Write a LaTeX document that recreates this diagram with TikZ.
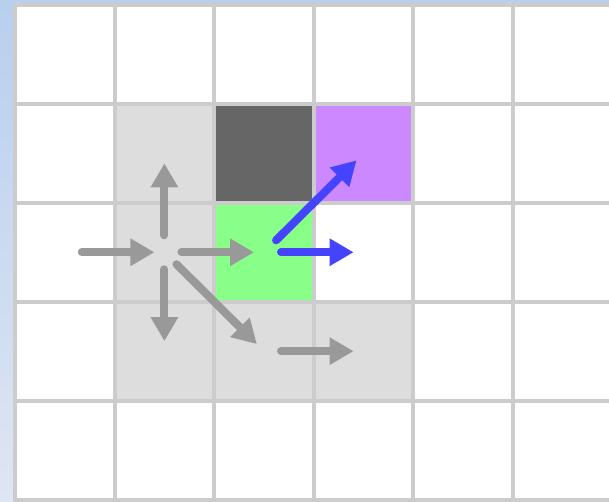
\documentclass[tikz,border=0pt]{standalone}
\usepackage{tikz}
\usetikzlibrary{arrows.meta}
\usepackage{xcolor}
\definecolor{bgtop}{HTML}{B8CFEE}
\definecolor{bgbottom}{HTML}{DEE6F3}
\definecolor{gridline}{HTML}{CCCCCC}
\definecolor{visited}{HTML}{DDDDDD}
\definecolor{wallcell}{HTML}{666666}
\definecolor{goalcell}{HTML}{CC88FF}
\definecolor{curcell}{HTML}{88FF88}
\definecolor{moveg}{HTML}{999999}
\definecolor{moveb}{HTML}{4444FF}

\begin{document}
\begin{tikzpicture}[
  x=1cm, y=-1cm,
  cell/.style={draw=gridline, line width=0.04cm, fill=white, rectangle,
    minimum width=0.996cm, minimum height=0.989cm, inner sep=0pt, outer sep=0pt},
  cell 1-1/.style={fill=visited},
  cell 1-2/.style={fill=visited},
  cell 1-3/.style={fill=visited},
  cell 2-3/.style={fill=visited},
  cell 3-3/.style={fill=visited},
  cell 2-1/.style={fill=wallcell},
  cell 3-1/.style={fill=goalcell},
  cell 2-2/.style={fill=curcell},
  move/.style={line width=0.08cm, line cap=round,
    -{Triangle[length=0.24cm, width=0.26cm]},
    shorten <=0.17cm, shorten >=0.1cm}
]

  \clip (0,0) rectangle (6.09,5.01);
  \shade[top color=bgtop, bottom color=bgbottom] (0,0) rectangle (6.09,5.01);

  % grid
  \foreach \i in {0,...,5}
    \foreach \j in {0,...,4}
      \node[cell, cell \i-\j/.try] (c-\i-\j)
        at ({0.15+0.996*(\i+0.5)}, {0.05+0.989*(\j+0.5)}) {};

  % moves
  \draw[move, moveg] (c-0-2.center) -- (c-1-2.center);
  \draw[move, moveg] (c-1-2.center) -- (c-1-1.center);
  \draw[move, moveg] (c-1-2.center) -- (c-2-2.center);
  \draw[move, moveg] (c-1-2.center) -- (c-1-3.center);
  \draw[move, moveg] (c-1-2.center) -- (c-2-3.center);
  \draw[move, moveg] (c-2-3.center) -- (c-3-3.center);
  \draw[move, moveb] (c-2-2.center) -- (c-3-1.center);
  \draw[move, moveb] (c-2-2.center) -- (c-3-2.center);

\end{tikzpicture}
\end{document}
